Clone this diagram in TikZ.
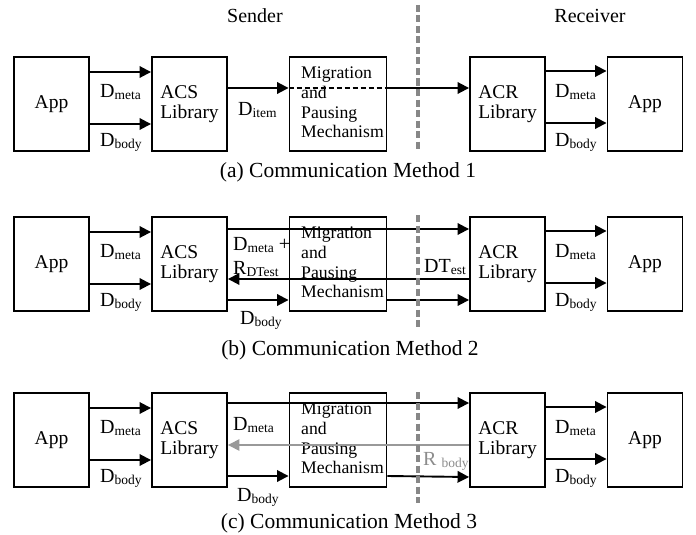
\documentclass[tikz,border=0pt]{standalone}
\usepackage{fontspec}
\setmainfont{Liberation Serif}
\usetikzlibrary{arrows.meta}
\newcommand\sbs[1]{\raisebox{-2.2pt}{\fontsize{13.5}{14}\selectfont #1}}
\begin{document}
\begin{tikzpicture}[x=1pt,y=-1pt,
  box/.style={draw, line width=1.9pt, minimum width=75pt, minimum height=94pt, inner sep=0pt,
    font=\fontsize{19.5}{20}\selectfont, align=left},
  migbox/.style={box, minimum width=97pt},
  migtxt/.style={anchor=west, inner sep=0pt, align=left, font=\fontsize{17.7}{19.7}\selectfont},
  arr/.style={line width=1.9pt, -{Triangle[length=11.5pt,width=11.5pt]}},
  garr/.style={line width=1.4pt, black!40, -{Triangle[length=11.5pt,width=11.5pt]}},
  lbl/.style={anchor=base west, inner sep=0pt, font=\fontsize{20}{20}\selectfont},
  head/.style={inner sep=0pt, font=\fontsize{20}{20}\selectfont},
  captxt/.style={inner sep=0pt, font=\fontsize{21.5}{22}\selectfont},
  sepline/.style={line width=4pt, black!47, dash pattern=on 7pt off 3.5pt}]
\useasboundingbox (0,0) rectangle (696,535);
\node[head] (snd) at (255,16) {Sender};
\node[head] (rcv) at (590,16) {Receiver};
\foreach \p/\t in {a/57,b/217,c/393}{
  \node[box] (appL\p) at (51.5,{\t+47}) {App};
  \node[box] (acs\p) at (189.5,{\t+47}) {ACS\\Library};
  \node[migbox] (mig\p) at (338,{\t+47}) {};
  \node[migtxt] (mt\p) at (301,{\t+45.5}) {Migration\\and\\Pausing\\Mechanism};
  \node[box] (acr\p) at (507.5,{\t+47}) {ACR\\Library};
  \node[box] (appR\p) at (645,{\t+47}) {App};
  \draw[arr] ([yshift=32pt]appL\p.east) -- ([yshift=32pt]acs\p.west);
  \draw[arr] ([yshift=-20pt]appL\p.east) -- ([yshift=-20pt]acs\p.west);
  \draw[arr] ([yshift=33pt]acr\p.east) -- ([yshift=33pt]appR\p.west);
  \draw[arr] ([yshift=-19pt]acr\p.east) -- ([yshift=-19pt]appR\p.west);
  \node[lbl] (lm\p) at (100,{\t+40}) {D\sbs{meta}};
  \node[lbl] (lb\p) at (100,{\t+89}) {D\sbs{body}};
  \node[lbl] (rm\p) at (555,{\t+40}) {D\sbs{meta}};
  \node[lbl] (rb\p) at (555,{\t+89}) {D\sbs{body}};
}
% panel a
\draw[arr] ([yshift=16pt]acsa.east) -- ([yshift=16pt]miga.west);
\draw[line width=1.9pt, dash pattern=on 5pt off 3pt] ([yshift=16pt]miga.west) -- ([yshift=16pt]miga.east);
\draw[arr] ([yshift=16pt]miga.east) -- ([yshift=16pt]acra.west);
\node[lbl] (ditem) at (238,115) {D\sbs{item}};
\node[captxt] (capa) at (348,172) {(a) Communication Method 1};
% panel b
\draw[arr] ([yshift=35pt]acsb.east) -- ([yshift=35pt]acrb.west);
\draw[arr] ([yshift=-15pt]acrb.west) -- ([yshift=-15pt]acsb.east);
\draw[arr] ([yshift=-36pt]acsb.east) -- ([yshift=-36pt]migb.west);
\draw[arr] ([yshift=-36pt]migb.east) -- ([yshift=-36pt]acrb.west);
\node[lbl] (dmb) at (233,250) {D\sbs{meta} +};
\node[lbl] (rdb) at (233,274) {R\sbs{DTest}};
\node[lbl] (dbb) at (240,324) {D\sbs{body}};
\node[lbl] (dtb) at (424,272) {DT\sbs{est}};
\node[captxt] (capb) at (350,350) {(b) Communication Method 2};
% panel c
\draw[arr] ([yshift=37pt]acsc.east) -- ([yshift=37pt]acrc.west);
\draw[garr] ([yshift=-5pt]acrc.west) -- ([yshift=-5pt]acsc.east);
\draw[arr] ([yshift=-36pt]acsc.east) -- ([yshift=-36pt]migc.west);
\draw[arr] ([yshift=-36pt]migc.east) -- ([yshift=-37pt]acrc.west);
\node[lbl] (dmc) at (233,430) {D\sbs{meta}};
\node[lbl] (dbc) at (237,501) {D\sbs{body}};
\node[lbl, text=black!45] (rbc) at (423,465) {R \sbs{body}};
\node[captxt] (capc) at (349,523.5) {(c) Communication Method 3};
% separators
\coordinate (s1t) at (418,5);   \coordinate (s1b) at (418,152);
\coordinate (s2t) at (418,215); \coordinate (s2b) at (418,327);
\coordinate (s3t) at (418,392); \coordinate (s3b) at (418,503);
\draw[sepline] (s1t) -- (s1b);
\draw[sepline] (s2t) -- (s2b);
\draw[sepline] (s3t) -- (s3b);
\end{tikzpicture}
\end{document}
